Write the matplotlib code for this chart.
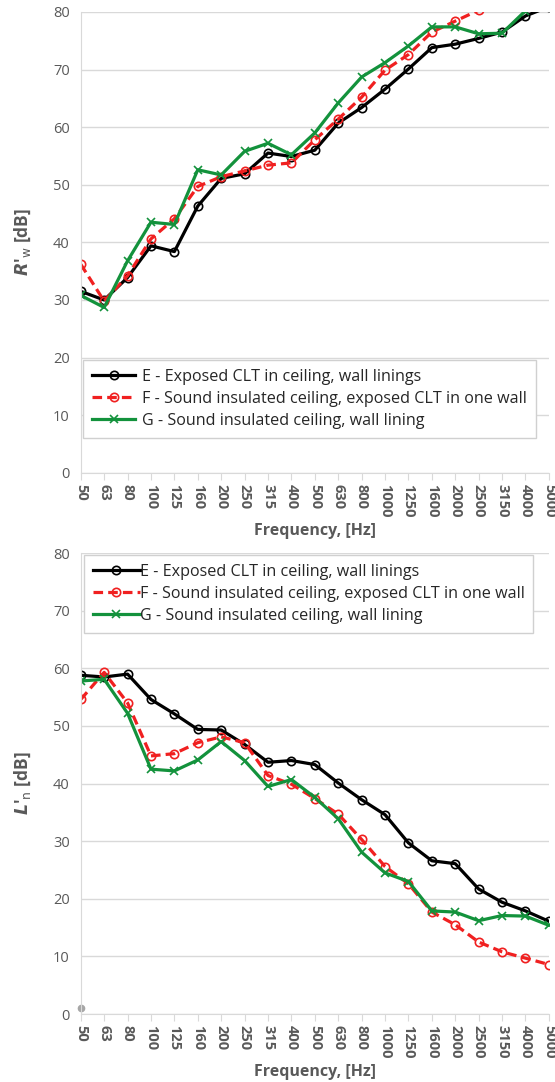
import matplotlib
matplotlib.use("Agg")
import matplotlib.pyplot as plt
import numpy as np

# frequency bands (one-third octave)
freqs = ["50", "63", "80", "100", "125", "160", "200", "250", "315", "400", "500",
         "630", "800", "1000", "1250", "1600", "2000", "2500", "3150", "4000", "5000"]

# airborne sound insulation R'w [dB]
rw_e = [31.5, 30.0, 33.9, 39.4, 38.4, 46.3, 51.1, 51.9, 55.5, 54.9, 56.0,
        60.7, 63.4, 66.6, 70.1, 73.8, 74.4, 75.4, 76.5, 79.3, 80.9]
rw_f = [36.2, 29.8, 34.2, 40.6, 44.1, 49.7, 51.4, 52.4, 53.4, 53.8, 57.8,
        61.4, 65.2, 69.9, 72.6, 76.5, 78.4, 80.3, 81.5, 82.5, 84.0]
rw_g = [30.8, 28.7, 36.8, 43.5, 43.1, 52.6, 51.7, 55.8, 57.2, 55.2, 59.0,
        64.2, 68.7, 71.2, 74.1, 77.4, 77.4, 76.2, 76.3, 80.2, 81.5]

# impact sound pressure level L'n [dB]
ln_e = [58.8, 58.5, 59.0, 54.6, 52.1, 49.4, 49.3, 46.8, 43.7, 44.0, 43.3,
        40.1, 37.2, 34.6, 29.7, 26.6, 26.1, 21.7, 19.4, 17.9, 16.1]
ln_f = [54.6, 59.3, 54.0, 44.8, 45.2, 47.1, 48.1, 47.1, 41.4, 39.9, 37.4,
        34.7, 30.3, 25.6, 22.6, 17.7, 15.5, 12.5, 10.8, 9.7, 8.6]
ln_g = [57.8, 58.1, 52.2, 42.5, 42.2, 44.1, 47.3, 44.0, 39.5, 40.7, 37.6,
        33.9, 28.1, 24.5, 23.0, 17.9, 17.7, 16.2, 17.1, 17.0, 15.4]

labels = ["E - Exposed CLT in ceiling, wall linings",
          "F - Sound insulated ceiling, exposed CLT in one wall",
          "G - Sound insulated ceiling, wall lining"]

grey = "#595959"
green = "#13923c"
red = "#f02020"
font = "Open Sans"


def style_axes(ax, ylabel):
    ax.set_xlim(0, len(freqs) - 1)
    ax.set_ylim(0, 80)
    ax.set_yticks(np.arange(0, 81, 10))
    ax.set_xticks(np.arange(len(freqs)))
    ax.set_xticklabels(freqs, rotation=270, fontsize=10.5, fontweight="bold",
                       color=grey, family=font)
    for t in ax.get_yticklabels():
        t.set_fontsize(10.5)
        t.set_color(grey)
        t.set_family(font)
    ax.grid(axis="y", color="#d9d9d9", linewidth=1)
    ax.set_axisbelow(True)
    for s in ["top", "right"]:
        ax.spines[s].set_visible(False)
    ax.spines["left"].set_color("#d9d9d9")
    ax.spines["bottom"].set_color("#d9d9d9")
    ax.tick_params(axis="y", length=0, pad=8)
    ax.tick_params(axis="x", length=5, color="#d9d9d9", pad=3)
    ax.set_xlabel("Frequency, [Hz]", fontsize=11.5, fontweight="bold",
                  color=grey, family=font, labelpad=4)
    ax.set_ylabel(ylabel, fontsize=12.5, fontweight="bold", color=grey,
                  family=font, labelpad=14)


def draw_series(ax, e, f, g):
    x = np.arange(len(freqs))
    ax.plot(x, e, color="black", lw=2.3, marker="o", ms=6, mfc="none",
            mew=1.2, label=labels[0])
    ax.plot(x, f, color=red, lw=2.3, ls=(0, (3, 1.6)), marker="o", ms=6,
            mfc="none", mew=1.2, label=labels[1])
    ax.plot(x, g, color=green, lw=2.3, marker="x", ms=6, mew=1.2,
            label=labels[2])


fig = plt.figure(figsize=(5.55, 10.82), dpi=100)

ax1 = fig.add_axes([0.1455, 0.563, 0.8435, 0.426])
draw_series(ax1, rw_e, rw_f, rw_g)
style_axes(ax1, r"$\mathbfit{R}$'$_{\mathrm{w}}$ [dB]")
leg1 = ax1.legend(loc="lower left", bbox_to_anchor=(0.005, 0.076),
                  prop={"family": font, "size": 11.6}, handlelength=2.7,
                  borderaxespad=0, fancybox=False, framealpha=1,
                  labelspacing=0.38, handletextpad=0.4, borderpad=0.55)
leg1.get_frame().set_edgecolor("#d0d0d0")
for t in leg1.get_texts():
    t.set_color("#262626")

ax2 = fig.add_axes([0.1455, 0.0628, 0.8435, 0.426])
draw_series(ax2, ln_e, ln_f, ln_g)
ax2.plot([0], [1.0], marker="o", ms=4.5, color="#a6a6a6", clip_on=False)
style_axes(ax2, r"$\mathbfit{L}$'$_{\mathrm{n}}$ [dB]")
leg2 = ax2.legend(loc="upper left", bbox_to_anchor=(0.007, 0.996),
                  prop={"family": font, "size": 11.6}, handlelength=2.9,
                  borderaxespad=0, fancybox=False, framealpha=1,
                  labelspacing=0.38, handletextpad=0.0, borderpad=0.55)
leg2.get_frame().set_edgecolor("#d0d0d0")
for t in leg2.get_texts():
    t.set_color("#262626")

fig.savefig("out.png", dpi=100)
